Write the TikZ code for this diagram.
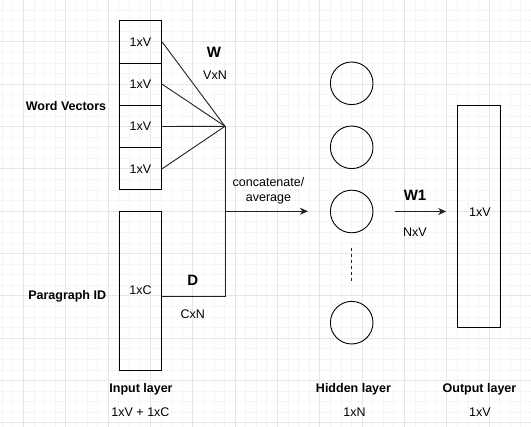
\documentclass[tikz,border=0pt]{standalone}
\usepackage{fontspec}
\setmainfont{Liberation Sans}
\usetikzlibrary{arrows.meta,calc}
\definecolor{gridmajor}{HTML}{E6E6E6}
\definecolor{gridminor}{HTML}{F5F5F5}
\definecolor{linec}{HTML}{222222}
\begin{document}
\begin{tikzpicture}[x=1pt,y=-1pt,
  txt/.style={inner sep=0pt,font=\fontsize{12.5}{14.7}\selectfont},
  btxt/.style={inner sep=0pt,font=\fontsize{12.5}{14.7}\selectfont\bfseries},
  bigtxt/.style={inner sep=0pt,font=\fontsize{15}{17}\selectfont\bfseries},
  cell/.style={draw=black,line width=0.9pt,minimum width=42.3pt,minimum height=42.3pt,inner sep=0pt,font=\fontsize{12.5}{14.7}\selectfont},
  tallbox/.style={draw=black,line width=0.9pt,minimum width=42.3pt,inner sep=0pt,font=\fontsize{12.5}{14.7}\selectfont},
  neuron/.style={draw=black,line width=0.9pt,circle,minimum size=42.6pt,inner sep=0pt},
  conn/.style={draw=linec,line width=0.9pt},
  arr/.style={conn,-{Stealth[length=8pt,width=7pt,inset=2.5pt]}}
]
\useasboundingbox (0,0) rectangle (531,427);
\fill[white] (0,0) rectangle (531,427);
% background grid
\foreach \i in {0,...,50} {
  \draw[gridminor,line width=0.5pt] ({2.1+10.583*\i},0) -- ({2.1+10.583*\i},427);
}
\foreach \i in {0,...,41} {
  \draw[gridminor,line width=0.5pt] (0,{-0.6+10.583*\i}) -- (531,{-0.6+10.583*\i});
}
\foreach \i in {0,...,12} {
  \draw[gridmajor,line width=0.7pt] ({23.3+42.33*\i},0) -- ({23.3+42.33*\i},427);
}
\foreach \i in {1,...,10} {
  \draw[gridmajor,line width=0.7pt] (0,{-0.6+42.33*\i}) -- (531,{-0.6+42.33*\i});
}

% input word vectors
\node[cell] (wv1) at (140.5,41.9) {1xV};
\node[cell] (wv2) at (140.5,84.2) {1xV};
\node[cell] (wv3) at (140.5,126.5) {1xV};
\node[cell] (wv4) at (140.5,168.8) {1xV};
\node[tallbox,minimum height=159pt] (pid) at (140.5,290.5) {1xC};

% junctions
\coordinate (J) at (225,126.3);
\coordinate (A) at (225,211.3);
\coordinate (Dc) at (225,296);

\draw[conn] (wv1.east) -- (J);
\draw[conn] (wv2.east) -- (J);
\draw[conn] (wv3.east) -- (J);
\draw[conn] (wv4.east) -- (J);
\draw[conn] (pid.east |- Dc) -- (Dc) -- (J);

% hidden layer
\node[neuron] (h1) at (351.7,83.3) {};
\node[neuron] (h2) at (351.7,147.3) {};
\node[neuron] (h3) at (351.7,211.5) {};
\node[neuron] (h4) at (351.7,322.7) {};
\coordinate (dtop) at (351.5,248);
\coordinate (dbot) at (351.5,283);
\draw[linec,line width=0.9pt,dash pattern=on 3pt off 3pt] (dtop) -- (dbot);

% output
\node[tallbox,minimum height=222pt] (out) at (478.8,216.3) {};
\node[txt] (outv) at (480,212) {1xV};

% arrows
\draw[arr] (A) -- ([xshift=-22pt]h3.west |- A);
\draw[arr] ([xshift=21.5pt]h3.east) -- ([xshift=-11pt]out.west |- h3.east);

% labels
\node[bigtxt] (W) at (214,52.3) {W};
\node[txt] (VxN) at (215,75) {VxN};
\node[btxt] (wvl) at (66,106) {Word Vectors};
\node[bigtxt] (D) at (192.7,280.5) {D};
\node[txt] (CxN) at (192.7,314.3) {CxN};
\node[btxt] (pidl) at (67.2,296.7) {Paragraph ID};
\node[txt,align=center] (cat) at (268.5,190.5) {concatenate/\\average};
\node[bigtxt] (W1) at (415,195.7) {W1};
\node[txt] (NxV) at (415,232.7) {NxV};

\node[btxt] (inl) at (141,389) {Input layer};
\node[txt] (ind) at (140.5,412.3) {1xV + 1xC};
\node[btxt] (hidl) at (353.5,389) {Hidden layer};
\node[txt] (hidd) at (354.5,412.7) {1xN};
\node[btxt] (outl) at (479.5,389) {Output layer};
\node[txt] (outd) at (480,412.7) {1xV};
\end{tikzpicture}
\end{document}
